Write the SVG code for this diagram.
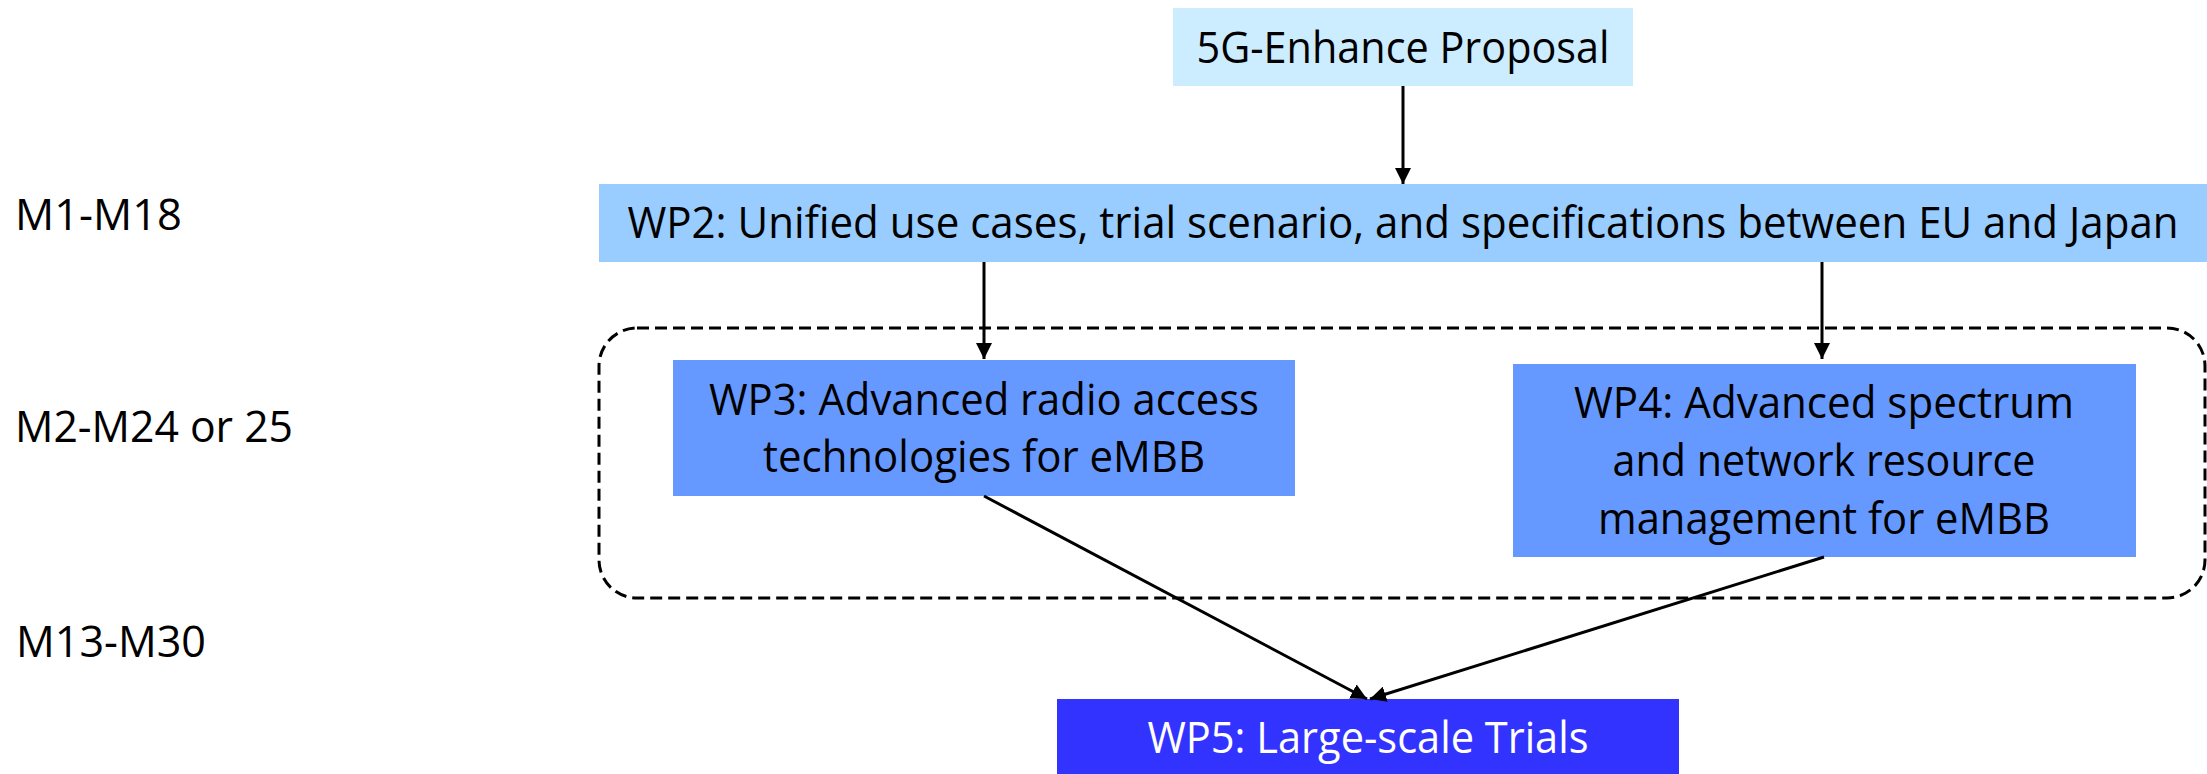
<svg xmlns="http://www.w3.org/2000/svg" width="2207" height="774" viewBox="0 0 2207 774">
  <style>
    .t { font-family: "Open Sans", Lato, "Liberation Sans", sans-serif; font-size: 43px; fill: #000000; }
    .c { text-anchor: middle; }
    .w { fill: #FFFFFF; }
    .conn { stroke: #000000; stroke-width: 3; fill: none; marker-end: url(#arrow); }
    .group { stroke: #000000; stroke-width: 3; fill: none; stroke-dasharray: 12 6; }
  </style>
  <defs>
    <marker id="arrow" markerUnits="userSpaceOnUse" markerWidth="16" markerHeight="16" refX="16" refY="8" orient="auto">
      <path d="M0,0 L16,8 L0,16 Z" fill="#000000"/>
    </marker>
  </defs>
  <rect width="2207" height="774" fill="#FFFFFF"/>

  <g id="labels">
    <text class="t" x="15" y="230" textLength="167" lengthAdjust="spacingAndGlyphs">M1-M18</text>
    <text class="t" x="15" y="442" textLength="278" lengthAdjust="spacingAndGlyphs">M2-M24 or 25</text>
    <text class="t" x="16" y="657" textLength="190" lengthAdjust="spacingAndGlyphs">M13-M30</text>
  </g>

  <g id="group-wp3-wp4">
    <rect class="group" x="599" y="328" width="1606" height="270" rx="38" ry="38"/>
  </g>

  <g id="proposal">
    <rect x="1173" y="8" width="460" height="78" fill="#CCECFF"/>
    <text class="t c" x="1403" y="63" textLength="413" lengthAdjust="spacingAndGlyphs">5G-Enhance Proposal</text>
  </g>

  <g id="wp2">
    <rect x="599" y="184" width="1608" height="78" fill="#99CCFF"/>
    <text class="t c" transform="translate(1403 238) scale(0.87 1)" x="0" y="0" textLength="1783" lengthAdjust="spacingAndGlyphs">WP2: Unified use cases, trial scenario, and specifications between EU and Japan</text>
  </g>

  <g id="wp3">
    <rect x="673" y="360" width="622" height="136" fill="#6699FF"/>
    <text class="t c" x="984" y="415" textLength="550" lengthAdjust="spacingAndGlyphs">WP3: Advanced radio access</text>
    <text class="t c" x="984" y="472" textLength="442" lengthAdjust="spacingAndGlyphs">technologies for eMBB</text>
  </g>

  <g id="wp4">
    <rect x="1513" y="364" width="623" height="193" fill="#6699FF"/>
    <text class="t c" x="1824" y="418" textLength="500" lengthAdjust="spacingAndGlyphs">WP4: Advanced spectrum</text>
    <text class="t c" x="1824" y="476" textLength="423" lengthAdjust="spacingAndGlyphs">and network resource</text>
    <text class="t c" x="1824" y="534" textLength="452" lengthAdjust="spacingAndGlyphs">management for eMBB</text>
  </g>

  <g id="wp5">
    <rect x="1057" y="699" width="622" height="75" fill="#3333FF"/>
    <text class="t c w" x="1368" y="753" textLength="441" lengthAdjust="spacingAndGlyphs">WP5: Large-scale Trials</text>
  </g>

  <g id="connectors">
    <line class="conn" x1="1403" y1="86" x2="1403" y2="184"/>
    <line class="conn" x1="984" y1="262" x2="984" y2="359"/>
    <line class="conn" x1="1822" y1="262" x2="1822" y2="359"/>
    <line class="conn" x1="984" y1="496" x2="1367" y2="699"/>
    <line class="conn" x1="1824" y1="557" x2="1370" y2="699"/>
  </g>
</svg>
